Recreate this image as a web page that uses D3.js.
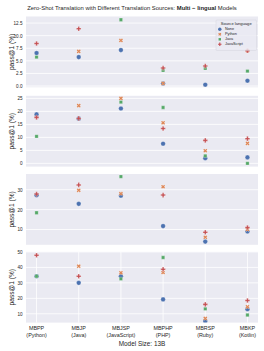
<!DOCTYPE html>
<html><head><meta charset="utf-8">
<script src="https://cdn.jsdelivr.net/npm/d3@7"></script>
<style>
html,body{margin:0;padding:0;background:#fff;}
svg{display:block;font-family:"Liberation Sans",Arial,Helvetica,sans-serif;}
</style></head>
<body><svg id="c" width="264" height="351"></svg>
<script>
// ---- data ----
const tasks = ["MBPP","MBJP","MBJSP","MBPHP","MBRSP","MBKP"];
const taskLangs = ["(Python)","(Java)","(JavaScript)","(PHP)","(Ruby)","(Kotlin)"];
const sources = ["None","Python","Java","JavaScript"];

const p1None = [6.55, 5.75, 7.14, 0.5, 0.26, 1.05];
const p1Python = [null, 6.87, 9.05, 0.52, null, 7.0];
const p1Java = [5.75, null, 13.15, 3.1, 3.5, 2.97];
const p1JavaScript = [8.45, 11.37, null, 3.57, 3.97, 7.0];

const p2None = [18.85, 17.2, 21.1, 7.55, 2.0, 2.3];
const p2Python = [null, 22.2, 25.0, 15.6, 4.85, 7.7];
const p2Java = [10.4, null, 23.6, 21.5, 2.9, 0.0];
const p2JavaScript = [17.7, 17.3, null, 13.4, 8.85, 9.5];

const p3None = [27.2, 22.9, 27.0, 11.7, 3.9, 9.0];
const p3Python = [null, 29.7, 28.0, 31.5, 6.1, 10.0];
const p3Java = [18.4, null, 36.6, null, null, null];
const p3JavaScript = [27.8, 32.4, null, 27.3, 8.6, 11.0];

const p4None = [34.3, 30.0, 34.3, 19.3, 5.3, 13.0];
const p4Python = [null, 40.8, 36.5, 36.7, 7.0, 14.5];
const p4Java = [34.3, null, 32.6, 46.4, 13.2, 9.2];
const p4JavaScript = [47.9, 34.3, null, 38.8, 16.1, 18.6];

const p1Ticks = [0, 2.5, 5, 7.5, 10, 12.5];
const p2Ticks = [0, 5, 10, 15, 20, 25];
const p3Ticks = [10, 20, 30];
const p4Ticks = [10, 20, 30, 40, 50];

const titleNormal = "Zero-Shot Translation with Different Translation Sources: ";
const titleBold = "Multi \u2212 lingual";
const titleEnd = " Models";
const yLabel = "pass@1 (%)";
const xLabel = "Model Size: 13B";
const legendTitle = "Source language";

// ---- layout ----
const panels = [
  {series:[p1None,p1Python,p1Java,p1JavaScript], ticks:p1Ticks, domain:[-0.25,13.8], fmt:d3.format(".1f")},
  {series:[p2None,p2Python,p2Java,p2JavaScript], ticks:p2Ticks, domain:[-1.25,26.0], fmt:d3.format("d")},
  {series:[p3None,p3Python,p3Java,p3JavaScript], ticks:p3Ticks, domain:[2.3,37.9], fmt:d3.format("d")},
  {series:[p4None,p4Python,p4Java,p4JavaScript], ticks:p4Ticks, domain:[4.3,50.1], fmt:d3.format("d")}
];
const tops = [16.5, 95.8, 174, 251.8];
const ph = 70.8;
const L = 26, R = 258;
const colors = ["#4c72b0","#dd8452","#55a868","#c44e52"];
const symbols = [d3.symbolCircle, d3.symbolCross, d3.symbolSquare, d3.symbolCross];
const sizes = [17, 11, 11, 12];
const rot = [0, 45, 0, 0];
const textCol = "#262626";

const svg = d3.select("#c");
const x = d3.scalePoint().domain(tasks).range([L, R]).padding(0.25);

svg.append("defs").selectAll("clipPath").data(tops).join("clipPath")
  .attr("id",(d,i)=>"clip"+i).append("rect")
  .attr("x",L).attr("y",d=>d).attr("width",R-L).attr("height",ph);

panels.forEach((p, pi) => {
  const top = tops[pi];
  const y = d3.scaleLinear().domain(p.domain).range([top+ph, top]);
  const g = svg.append("g");
  g.append("rect").attr("x",L).attr("y",top).attr("width",R-L).attr("height",ph).attr("fill","#eaeaf2");
  g.selectAll("line.hg").data(p.ticks).join("line").attr("class","hg")
    .attr("x1",L).attr("x2",R).attr("y1",d=>y(d)).attr("y2",d=>y(d))
    .attr("stroke","#fff").attr("stroke-width",0.8);
  if (pi === 3) {
    g.selectAll("line.vg").data(tasks).join("line").attr("class","vg")
      .attr("y1",top).attr("y2",top+ph).attr("x1",d=>x(d)).attr("x2",d=>x(d))
      .attr("stroke","#fff").attr("stroke-width",0.8);
  }
  const ax = g.append("g").attr("transform",`translate(${L},0)`)
    .call(d3.axisLeft(y).tickValues(p.ticks).tickFormat(p.fmt).tickSize(0).tickPadding(3.5));
  ax.select(".domain").remove();
  ax.selectAll("text").attr("font-size",4.6).attr("fill",textCol).attr("font-family",null);

  g.append("text").attr("transform",`translate(12.5,${top+ph/2}) rotate(-90)`)
    .attr("text-anchor","middle").attr("dominant-baseline","middle")
    .attr("font-size",6.6).attr("fill",textCol).text(yLabel);

  const mg = g.append("g").attr("clip-path",`url(#clip${pi})`);
  p.series.forEach((vals, si) => {
    const sym = d3.symbol().type(symbols[si]).size(sizes[si]);
    mg.selectAll(null).data(vals.map((v,i)=>({v, t:tasks[i]})).filter(d=>d.v!==null)).join("path")
      .attr("d", sym)
      .attr("transform", d=>`translate(${x(d.t)},${y(d.v)}) rotate(${rot[si]})`)
      .attr("fill", colors[si]).attr("stroke","#fff").attr("stroke-width",0.25);
  });
});

// x tick labels
const xb = tops[3]+ph;
const xt = svg.append("g");
tasks.forEach((t,i)=>{
  const tx = xt.append("text").attr("x",x(t)).attr("y",xb+7.3).attr("text-anchor","middle")
    .attr("font-size",5.4).attr("fill",textCol);
  tx.append("tspan").attr("x",x(t)).text(t);
  tx.append("tspan").attr("x",x(t)).attr("dy",7.4).text(taskLangs[i]);
});
svg.append("text").attr("x",(L+R)/2).attr("y",xb+23.6).attr("text-anchor","middle")
  .attr("font-size",6.4).attr("fill",textCol).text(xLabel);

// title
const tt = svg.append("text").attr("x",132).attr("y",9.5).attr("text-anchor","middle")
  .attr("font-size",5.9).attr("fill",textCol);
tt.append("tspan").text(titleNormal);
tt.append("tspan").attr("font-weight","bold").text(titleBold);
tt.append("tspan").text(titleEnd);

// legend
const lg = svg.append("g");
lg.append("rect").attr("x",216).attr("y",20).attr("width",40.5).attr("height",30.5).attr("rx",1)
  .attr("fill","#eaeaf2").attr("fill-opacity",0.8).attr("stroke","#d0d0d8").attr("stroke-width",0.4);
lg.append("text").attr("x",236.2).attr("y",24.8).attr("text-anchor","middle")
  .attr("font-size",4.1).attr("fill",textCol).text(legendTitle);
sources.forEach((s,si)=>{
  const yy = 29.3 + si*5.0;
  lg.append("path").attr("d", d3.symbol().type(symbols[si]).size(sizes[si]*0.55)())
    .attr("transform",`translate(219.8,${yy}) rotate(${rot[si]})`).attr("fill",colors[si]);
  lg.append("text").attr("x",225).attr("y",yy).attr("dominant-baseline","middle")
    .attr("font-size",3.8).attr("fill",textCol).text(s);
});
</script></body></html>
